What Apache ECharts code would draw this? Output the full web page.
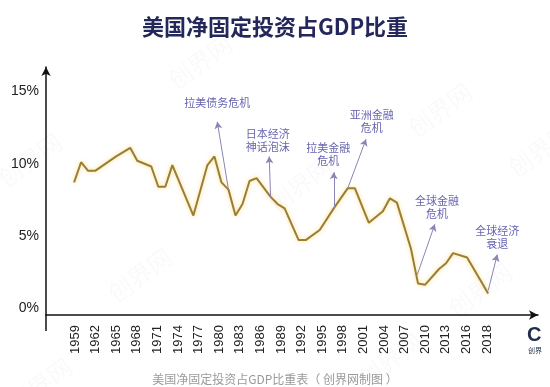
<!DOCTYPE html>
<html><head><meta charset="utf-8">
<script src="https://cdn.jsdelivr.net/npm/echarts@6/dist/echarts.min.js"></script>
<style>html,body{margin:0;padding:0;background:#fff;}#c{width:550px;height:387px;}</style>
</head><body><div id="c"></div>
<script>
// vertex years and values (% of GDP)
var years = [1959,1960,1961,1962,1965,1967,1968,1970,1971,1972,1973,1976,1978,1979,1980,1981,1982,1983,1984,1985,1987,1988,1989,1991,1992,1994,1996,1998,1999,2001,2003,2004,2005,2007,2008,2009,2011,2012,2013,2015,2018];
var values = [8.7,10.1,9.5,9.5,10.5,11.1,10.2,9.8,8.4,8.4,9.9,6.4,9.9,10.5,8.7,8.2,6.4,7.2,8.8,9.0,7.7,7.2,6.9,4.7,4.7,5.4,6.9,8.3,8.3,5.9,6.7,7.6,7.3,4.1,1.7,1.6,2.7,3.1,3.8,3.5,1.0];
var tickLabels = ['1959','1962','1965','1968','1971','1974','1977','1980','1983','1986','1989','1992','1995','1998','2001','2004','2007','2010','2013','2016','2018'];
var yTicks = [0,5,10,15];
// annotations
var annTexts = ['拉美债务危机','日本经济\n神话泡沫','拉美金融\n危机','亚洲金融\n危机','全球金融\n危机','全球经济\n衰退'];
var annTextPos = [[1979.4,14.2],[1986.6,11.6],[1995.2,10.65],[2001.4,12.95],[2010.7,6.95],[2019.3,4.9]];
var annFrom = [[1981,8.2],[1987,7.7],[1996,6.9],[1998,8.3],[2007.9,2.3],[2018,1.2]];
var annTo = [[1979.4,12.9],[1986.8,10.5],[1996,9.4],[2000.6,11.7],[2010.4,5.8],[2019.3,3.7]];
var watermark = '创界网';

var chart = echarts.init(document.getElementById('c'));
var font = "'Liberation Sans','Noto Sans CJK SC',sans-serif";
var cjk = "'Noto Sans CJK SC',sans-serif";
var wmPos = [[200,62],[30,160],[140,275],[300,185],[480,290],[540,150],[440,110],[390,360],[40,385]];
var wm = wmPos.map(function(p){
  return {type:'text',x:p[0],y:p[1],rotation:Math.PI/5,z:-10,silent:true,
    style:{text:watermark,font:'24px "Noto Sans CJK SC"',fill:'rgba(0,0,0,0.025)',align:'center',verticalAlign:'middle'}};
});
chart.setOption({
  backgroundColor:'#fff',
  animation:false,
  title:[{text:'美国净固定投资占GDP比重',left:'center',top:11,textStyle:{fontFamily:cjk,fontSize:22,fontWeight:'bold',color:'#24275a'}},
         {text:'美国净固定投资占GDP比重表（ 创界网制图 ）',left:'center',top:368,textStyle:{fontFamily:cjk,fontSize:12,fontWeight:'normal',color:'#9a9a9a'}}],
  grid:{left:46,right:12,top:67,bottom:72},
  xAxis:[
    {type:'value',min:1955,max:2025.1,axisLine:{show:true,onZero:false,lineStyle:{color:'#111',width:1.5},symbol:['none','arrow'],symbolSize:[7,9]},axisTick:{show:false},axisLabel:{show:false},splitLine:{show:false}},
    {type:'value',min:-1.41,max:22.47,position:'bottom',axisLine:{show:false,onZero:false},axisTick:{show:false},splitLine:{show:false},
     axisLabel:{show:true,rotate:90,margin:10,fontSize:13,fontFamily:font,color:'#222',customValues:tickLabels.map(function(_,i){return i;}),formatter:function(v){return tickLabels[Math.round(v)];}}}
  ],
  yAxis:{type:'value',min:-0.49,max:16.7,axisLine:{show:true,onZero:false,lineStyle:{color:'#111',width:1.5},symbol:['none','arrow'],symbolSize:[7,9]},axisTick:{show:false},splitLine:{show:false},
    axisLabel:{customValues:yTicks,formatter:'{value}%',fontSize:14,margin:7,color:'#222',fontFamily:font}},
  series:[
    {type:'line',data:years.map(function(y,i){return [y,values[i]];}),symbol:'none',
     lineStyle:{color:'#9a7e34',width:2,shadowColor:'rgba(255,195,40,0.6)',shadowBlur:4},
     markLine:{silent:true,symbol:['none','arrow'],symbolSize:[6,7],label:{show:false},
       lineStyle:{color:'#8d84b5',width:1,type:'solid'},itemStyle:{color:'#6e62a8'},
       data:annFrom.map(function(f,i){return [{coord:f},{coord:annTo[i]}];})}},
    {type:'scatter',data:annTextPos.map(function(p,i){return {value:p,name:annTexts[i]};}),symbolSize:1,itemStyle:{color:'rgba(0,0,0,0)'},
     label:{show:true,position:'inside',formatter:function(p){return p.name;},fontFamily:cjk,fontSize:11,lineHeight:13,color:'#3d3a9a',align:'center',verticalAlign:'middle'}}
  ],
  graphic:wm.concat([
    {type:'line',shape:{x1:46,y1:315,x2:46,y2:331},style:{stroke:'#111',lineWidth:1.5}},
    {type:'text',left:527,top:325,style:{text:'C',font:'bold 20px "Liberation Sans"',fill:'#1d2d4a'}},
    {type:'text',left:528,top:347,style:{text:'创界',font:'7px "Noto Sans CJK SC"',fill:'#1d2d4a'}}
  ])
});
</script></body></html>
